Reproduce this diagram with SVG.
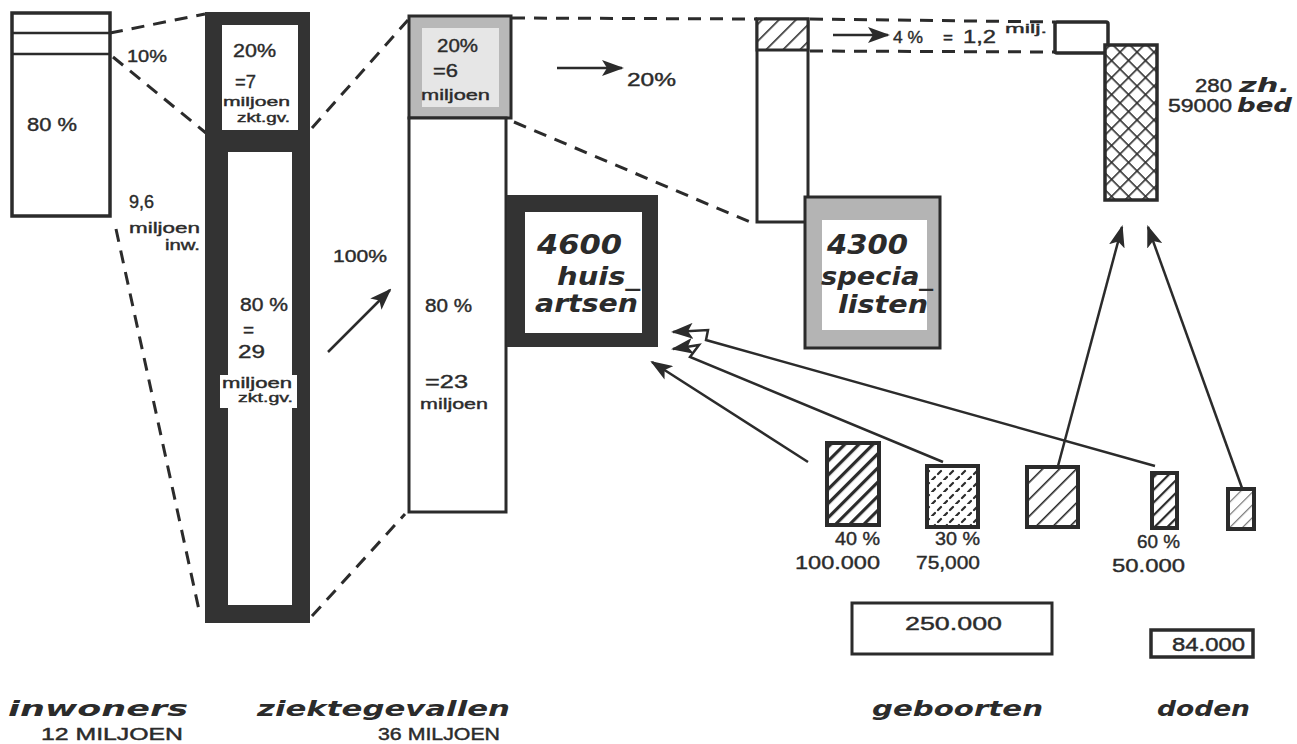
<svg xmlns="http://www.w3.org/2000/svg" width="1297" height="744" viewBox="0 0 1297 744">
<style>
.t{font-family:"Liberation Sans",Arial,sans-serif;fill:#2b2b2b;stroke:#2b2b2b;stroke-width:0.4}
.b{font-family:"DejaVu Sans",sans-serif;font-weight:bold;font-style:italic;fill:#2b2b2b}
.dash{stroke:#2b2b2b;stroke-width:3;stroke-dasharray:13 9;fill:none}
.ar{stroke:#2b2b2b;stroke-width:2.5;fill:none;marker-end:url(#ah)}
.box{stroke:#2b2b2b;stroke-width:3.5}
</style>
<defs>
<marker id="ah" markerUnits="userSpaceOnUse" markerWidth="22" markerHeight="16" refX="20" refY="8" orient="auto">
<path d="M0,0 L22,8 L0,16 L5,8 z" fill="#2b2b2b"/>
</marker>
<pattern id="hThick" patternUnits="userSpaceOnUse" width="10" height="10" patternTransform="rotate(45)">
<rect width="10" height="10" fill="#fff"/><rect x="0" y="0" width="3.2" height="10" fill="#2b2b2b"/>
</pattern>
<pattern id="hThin" patternUnits="userSpaceOnUse" width="12" height="12" patternTransform="rotate(45)">
<rect width="12" height="12" fill="#fff"/><rect x="0" y="0" width="1.6" height="12" fill="#2b2b2b"/>
</pattern>
<pattern id="hMed" patternUnits="userSpaceOnUse" width="9" height="9" patternTransform="rotate(45)">
<rect width="9" height="9" fill="#fff"/><rect x="0" y="0" width="2.2" height="9" fill="#2b2b2b"/>
</pattern>
<pattern id="hLight" patternUnits="userSpaceOnUse" width="9" height="9" patternTransform="rotate(45)">
<rect width="9" height="9" fill="#fff"/><rect x="0" y="0" width="1.2" height="9" fill="#777"/>
</pattern>
<pattern id="cross" patternUnits="userSpaceOnUse" width="12" height="12" patternTransform="rotate(45)">
<rect width="12" height="12" fill="#fff"/><rect x="0" y="0" width="1.6" height="12" fill="#2b2b2b"/><rect x="0" y="0" width="12" height="1.6" fill="#2b2b2b"/>
</pattern>
<pattern id="dots" patternUnits="userSpaceOnUse" width="12" height="12">
<rect width="12" height="12" fill="#fff"/><path d="M2,6 L5,3 M8,12 L11,9" stroke="#2b2b2b" stroke-width="2.2" stroke-linecap="round"/>
</pattern>
</defs>

<g id="connectors">
<line class="dash" x1="110" y1="33" x2="205" y2="14"/>
<line class="dash" x1="113" y1="57" x2="206" y2="133"/>
<line class="dash" x1="116" y1="229" x2="199" y2="610"/>
<line class="dash" x1="312" y1="128" x2="408" y2="20"/>
<line class="dash" x1="312" y1="616" x2="405" y2="514"/>
<line class="dash" x1="512" y1="18" x2="757" y2="19"/>
<line class="dash" x1="810" y1="19" x2="1055" y2="22"/>
<line class="dash" x1="810" y1="51" x2="1055" y2="52"/>
<line class="dash" x1="514" y1="122" x2="750" y2="222"/>
<line class="ar" x1="328" y1="352" x2="390" y2="290"/>
<line class="ar" x1="557" y1="68" x2="622" y2="68"/>
<line class="ar" x1="833" y1="35" x2="888" y2="35"/>
<line class="ar" x1="808" y1="462" x2="652" y2="362"/>
<polyline class="ar" points="943,462 690,357 699,345 673,349"/>
<polyline class="ar" points="1155,466 706,340 708,330 673,332"/>
<line class="ar" x1="1058" y1="466" x2="1122" y2="227"/>
<line class="ar" x1="1242" y1="488" x2="1148" y2="227"/>
</g>

<g id="inwoners">
<rect class="box" x="12" y="13" width="98" height="203" fill="#fff" stroke-width="3"/>
<line x1="12" y1="33" x2="110" y2="33" stroke="#2b2b2b" stroke-width="2.5"/>
<line x1="12" y1="54" x2="110" y2="54" stroke="#2b2b2b" stroke-width="2.5"/>
<text class="t" x="27" y="131" font-size="19" textLength="50" lengthAdjust="spacingAndGlyphs">80 %</text>
<text class="t" x="127" y="62" font-size="17" textLength="40" lengthAdjust="spacingAndGlyphs">10%</text>
<text class="t" x="129" y="208" font-size="18">9,6</text>
<text class="t" x="129" y="233" font-size="15" textLength="71" lengthAdjust="spacingAndGlyphs">miljoen</text>
<text class="t" x="165" y="250" font-size="14" textLength="35" lengthAdjust="spacingAndGlyphs">inw.</text>
<text class="b" x="8" y="716" font-size="22" textLength="180" lengthAdjust="spacingAndGlyphs">inwoners</text>
<text class="t" x="41" y="740" font-size="16" textLength="142" lengthAdjust="spacingAndGlyphs">12 MILJOEN</text>
</g>

<g id="ziektegevallen">
<path fill="#333" fill-rule="evenodd" d="M205,12 H310 V623 H205 Z M222,25 V130 H298 V25 Z M228,152 V605 H292 V152 Z"/>
<rect x="220" y="375" width="77" height="33" fill="#fff"/>
<text class="t" x="233" y="57" font-size="19" textLength="43" lengthAdjust="spacingAndGlyphs">20%</text>
<text class="t" x="235" y="88" font-size="19" textLength="21" lengthAdjust="spacingAndGlyphs">=7</text>
<text class="t" x="223" y="106" font-size="13" textLength="67" lengthAdjust="spacingAndGlyphs">miljoen</text>
<text class="t" x="237" y="122" font-size="12" textLength="53" lengthAdjust="spacingAndGlyphs">zkt.gv.</text>
<text class="t" x="240" y="311" font-size="19" textLength="48" lengthAdjust="spacingAndGlyphs">80 %</text>
<text class="t" x="243" y="336" font-size="19">=</text>
<text class="t" x="238" y="358" font-size="19" textLength="27" lengthAdjust="spacingAndGlyphs">29</text>
<text class="t" x="222" y="388" font-size="14" textLength="70" lengthAdjust="spacingAndGlyphs">miljoen</text>
<text class="t" x="238" y="402" font-size="13" textLength="55" lengthAdjust="spacingAndGlyphs">zkt.gv.</text>
<text class="t" x="333" y="262" font-size="17" textLength="54" lengthAdjust="spacingAndGlyphs">100%</text>
<text class="b" x="257" y="716" font-size="22" textLength="253" lengthAdjust="spacingAndGlyphs">ziektegevallen</text>
<text class="t" x="378" y="740" font-size="16" textLength="122" lengthAdjust="spacingAndGlyphs">36 MILJOEN</text>
</g>

<g id="ziekte-verdeling">
<rect x="409" y="16" width="102" height="102" fill="#b8b8b8" stroke="#2b2b2b" stroke-width="3"/>
<rect x="422" y="28" width="77" height="79" fill="#e6e6e6"/>
<rect x="409" y="118" width="97" height="394" fill="#fff" stroke="#2b2b2b" stroke-width="3"/>
<text class="t" x="437" y="52" font-size="19" textLength="41" lengthAdjust="spacingAndGlyphs">20%</text>
<text class="t" x="433" y="77" font-size="19" textLength="25" lengthAdjust="spacingAndGlyphs">=6</text>
<text class="t" x="421" y="100" font-size="15" textLength="69" lengthAdjust="spacingAndGlyphs">miljoen</text>
<text class="t" x="425" y="312" font-size="18" textLength="47" lengthAdjust="spacingAndGlyphs">80 %</text>
<text class="t" x="425" y="388" font-size="19" textLength="43" lengthAdjust="spacingAndGlyphs">=23</text>
<text class="t" x="420" y="409" font-size="15" textLength="68" lengthAdjust="spacingAndGlyphs">miljoen</text>
<text class="t" x="627" y="86" font-size="18" textLength="49" lengthAdjust="spacingAndGlyphs">20%</text>
</g>

<g id="huisartsen">
<path fill="#333" fill-rule="evenodd" d="M507,195 H658 V347 H507 Z M525,212 V333 H642 V212 Z"/>
<text class="b" x="537" y="254" font-size="26" textLength="85" lengthAdjust="spacingAndGlyphs">4600</text>
<text class="b" x="557" y="285" font-size="25" textLength="83" lengthAdjust="spacingAndGlyphs">huis_</text>
<text class="b" x="535" y="312" font-size="25" textLength="103" lengthAdjust="spacingAndGlyphs">artsen</text>
</g>

<g id="specialisten">
<rect x="757" y="19" width="51" height="203" fill="#fff" stroke="#2b2b2b" stroke-width="3"/>
<rect x="757" y="19" width="51" height="31" fill="url(#hThin)" stroke="#2b2b2b" stroke-width="3"/>
<rect x="805" y="197" width="135" height="151" fill="#b4b4b4" stroke="#2b2b2b" stroke-width="3"/>
<rect x="822" y="220" width="105" height="110" fill="#fff"/>
<text class="b" x="827" y="254" font-size="26" textLength="81" lengthAdjust="spacingAndGlyphs">4300</text>
<text class="b" x="821" y="285" font-size="24" textLength="112" lengthAdjust="spacingAndGlyphs">specia_</text>
<text class="b" x="838" y="313" font-size="24" textLength="90" lengthAdjust="spacingAndGlyphs">listen</text>
<text class="t" x="893" y="43" font-size="17" textLength="30" lengthAdjust="spacingAndGlyphs">4 %</text>
<text class="t" x="943" y="43" font-size="17">=</text>
<text class="t" x="963" y="43" font-size="18" textLength="33" lengthAdjust="spacingAndGlyphs">1,2</text>
<text class="t" x="1005" y="33" font-size="13" textLength="42" lengthAdjust="spacingAndGlyphs">milj.</text>
</g>

<g id="ziekenhuizen">
<rect x="1055" y="22" width="53" height="31" fill="#fff" stroke="#2b2b2b" stroke-width="3.5" rx="2"/>
<rect x="1105" y="45" width="52" height="155" fill="url(#cross)" stroke="#2b2b2b" stroke-width="3.5"/>
<text class="t" x="1195" y="92" font-size="18" textLength="37" lengthAdjust="spacingAndGlyphs">280</text>
<text class="b" x="1239" y="92" font-size="19" textLength="51" lengthAdjust="spacingAndGlyphs">zh.</text>
<text class="t" x="1168" y="112" font-size="18" textLength="64" lengthAdjust="spacingAndGlyphs">59000</text>
<text class="b" x="1237" y="112" font-size="19" textLength="55" lengthAdjust="spacingAndGlyphs">bed</text>
</g>

<g id="geboorten">
<rect x="827" y="443" width="52" height="82" fill="url(#hThick)" stroke="#2b2b2b" stroke-width="4"/>
<rect x="927" y="466" width="51" height="61" fill="url(#dots)" stroke="#2b2b2b" stroke-width="4"/>
<rect x="1027" y="467" width="51" height="60" fill="url(#hThin)" stroke="#2b2b2b" stroke-width="4"/>
<text class="t" x="835" y="545" font-size="18" textLength="45" lengthAdjust="spacingAndGlyphs">40 %</text>
<text class="t" x="795" y="569" font-size="19" textLength="85" lengthAdjust="spacingAndGlyphs">100.000</text>
<text class="t" x="935" y="545" font-size="18" textLength="45" lengthAdjust="spacingAndGlyphs">30 %</text>
<text class="t" x="916" y="569" font-size="19" textLength="64" lengthAdjust="spacingAndGlyphs">75,000</text>
<rect x="852" y="603" width="200" height="51" fill="#fff" stroke="#2b2b2b" stroke-width="3"/>
<text class="t" x="905" y="630" font-size="19" textLength="97" lengthAdjust="spacingAndGlyphs">250.000</text>
<text class="b" x="872" y="716" font-size="22" textLength="171" lengthAdjust="spacingAndGlyphs">geboorten</text>
</g>

<g id="doden">
<rect x="1152" y="473" width="25" height="55" fill="url(#hMed)" stroke="#2b2b2b" stroke-width="4"/>
<rect x="1228" y="489" width="26" height="40" fill="url(#hLight)" stroke="#2b2b2b" stroke-width="4"/>
<text class="t" x="1137" y="548" font-size="18" textLength="43" lengthAdjust="spacingAndGlyphs">60 %</text>
<text class="t" x="1112" y="572" font-size="19" textLength="73" lengthAdjust="spacingAndGlyphs">50.000</text>
<rect x="1151" y="630" width="102" height="27" fill="#fff" stroke="#2b2b2b" stroke-width="3.5"/>
<text class="t" x="1172" y="651" font-size="18" textLength="73" lengthAdjust="spacingAndGlyphs">84.000</text>
<text class="b" x="1157" y="716" font-size="22" textLength="93" lengthAdjust="spacingAndGlyphs">doden</text>
</g>
</svg>
